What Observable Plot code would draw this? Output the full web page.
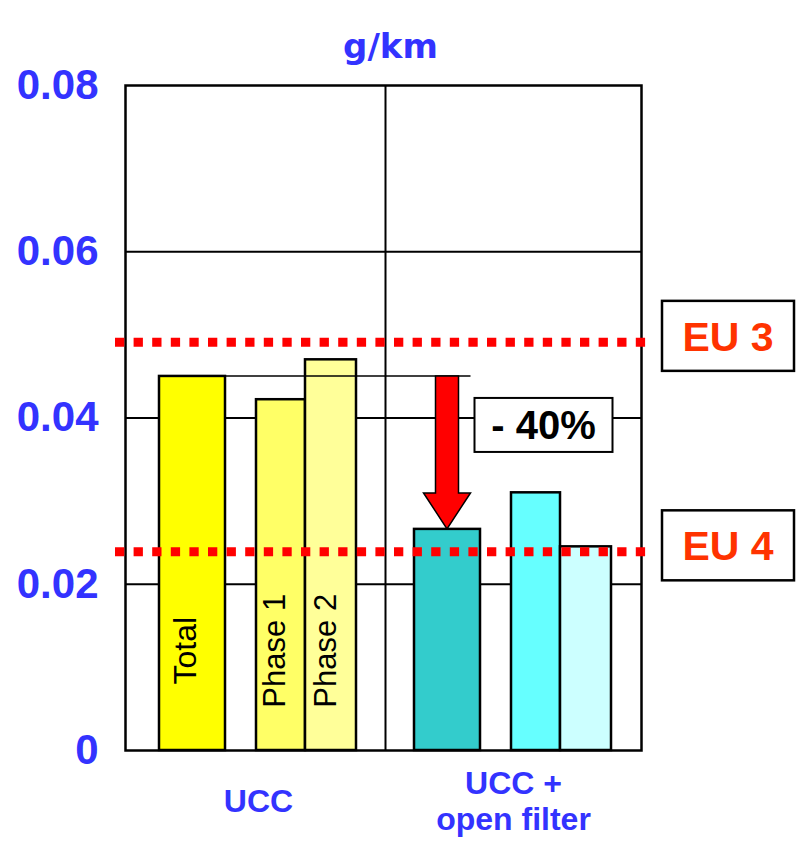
<!DOCTYPE html>
<html><head><meta charset="utf-8">
<script src="https://cdn.jsdelivr.net/npm/d3@7"></script>
<script src="https://cdn.jsdelivr.net/npm/@observablehq/plot@0.6"></script>
<style>body{margin:0;background:#fff}</style>
</head><body><div id="chart"></div>
<script>
// ---- data ----
const groups = ["UCC", "UCC + open filter"];
const groupLabels = ["UCC", "UCC +\nopen filter"];
const series = ["Total", "Phase 1", "Phase 2"];
const uccValues = [0.045, 0.0422, 0.047];
const filterValues = [0.0266, 0.031, 0.0245];
const uccColors = ["#ffff00", "#ffff66", "#ffff99"];
const filterColors = ["#33cccc", "#66ffff", "#ccffff"];
const yTicks = [0, 0.02, 0.04, 0.06, 0.08];
const limitNames = ["EU 3", "EU 4"];
const limitValues = [0.0491, 0.0239];
const reductionLabel = "- 40%";
const unitLabel = "g/km";

// ---- build table ----
const slot = (g, s) => g + "|" + s;
const xDomain = [
  slot(groups[0], "Total"), slot(groups[0], "gap"), slot(groups[0], "Phase 1"), slot(groups[0], "Phase 2"),
  "sep",
  slot(groups[1], "Total"), slot(groups[1], "gap"), slot(groups[1], "Phase 1"), slot(groups[1], "Phase 2")
];
const rows = [];
groups.forEach((g, gi) => series.forEach((s, si) =>
  rows.push({group: g, series: s, key: slot(g, s), value: (gi ? filterValues : uccValues)[si]})));
const colorDomain = rows.map(d => d.key);
const colorRange = [...uccColors, ...filterColors];

const BLUE = "#3333ff";
const SANS = "'Liberation Sans', Arial, sans-serif";
const NARROW = "'Liberation Sans Narrow', 'Arial Narrow', 'Liberation Sans', sans-serif";
const TOTAL_INSET_L = 5, TOTAL_INSET_R = -20;

function overlay(index, scales, values, dims) {
  const {x, y} = scales;
  const bw = x.bandwidth();
  const g = d3.create("svg:g");
  const top = dims.marginTop, bottom = dims.height - dims.marginBottom;
  const right = dims.width - dims.marginRight;
  // divider between the two groups
  const sx = x("sep") + bw / 2 + 2;
  g.append("line").attr("x1", sx).attr("x2", sx).attr("y1", top).attr("y2", bottom)
    .attr("stroke", "#000").attr("stroke-width", 2);
  // reference line at the UCC total level
  const totalU = uccValues[0], totalF = filterValues[0];
  const tl = x(slot(groups[0], "Total")) + TOTAL_INSET_L;
  const fl = x(slot(groups[1], "Total")) + TOTAL_INSET_L;
  const fr = x(slot(groups[1], "Total")) + bw - TOTAL_INSET_R;
  const cx = (fl + fr) / 2;
  const y0 = y(totalU), y1 = y(totalF);
  const headW = 23.5, shaftW = 11.5, headH = 36;
  g.append("line").attr("x1", tl).attr("x2", cx + headW).attr("y1", y0).attr("y2", y0)
    .attr("stroke", "#000").attr("stroke-width", 1.5);
  // block arrow
  const pts = [[cx - shaftW, y0], [cx + shaftW, y0], [cx + shaftW, y1 - headH], [cx + headW, y1 - headH],
               [cx, y1], [cx - headW, y1 - headH], [cx - shaftW, y1 - headH]];
  g.append("path").attr("d", "M" + pts.map(p => p.join(",")).join("L") + "Z")
    .attr("fill", "#ff0000").attr("stroke", "#000").attr("stroke-width", 1.5);
  // reduction label box
  const bx = cx + 27.5, by = y0 + 22;
  g.append("rect").attr("x", bx).attr("y", by).attr("width", 138).attr("height", 54)
    .attr("fill", "#fff").attr("stroke", "#000").attr("stroke-width", 2);
  g.append("text").attr("x", bx + 69).attr("y", by + 27 + 14.5).attr("text-anchor", "middle")
    .attr("font-family", SANS).attr("font-weight", "bold").attr("font-size", 40).attr("fill", "#000")
    .text(reductionLabel);
  // limit boxes
  limitNames.forEach((name, i) => {
    const cy = y(limitValues[i]) - 6;
    g.append("rect").attr("x", right + 21).attr("y", cy - 35).attr("width", 132).attr("height", 70)
      .attr("fill", "#fff").attr("stroke", "#000").attr("stroke-width", 2.5);
    g.append("text").attr("x", right + 21 + 66).attr("y", cy + 15).attr("text-anchor", "middle")
      .attr("font-family", SANS).attr("font-weight", "bold").attr("font-size", 41).attr("fill", "#ff3300")
      .text(name);
  });
  // group labels
  groups.forEach((grp, gi) => {
    const l = x(slot(grp, "Total")) + TOTAL_INSET_L;
    const r = x(slot(grp, "Phase 2")) + bw;
    const c = (l + r) / 2;
    const lines = groupLabels[gi].split("\n");
    const lh = 36;
    const t = g.append("text").attr("text-anchor", "middle").attr("font-family", SANS)
      .attr("font-weight", "bold").attr("font-size", 32).attr("fill", BLUE);
    lines.forEach((ln, li) => {
      t.append("tspan").attr("x", c)
        .attr("y", bottom + 50 + 11.5 + (li - (lines.length - 1) / 2) * lh).text(ln);
    });
  });
  return g.node();
}

const chart = Plot.plot({
  width: 796,
  height: 842,
  marginLeft: 125,
  marginRight: 155,
  marginTop: 85,
  marginBottom: 92,
  style: {fontFamily: SANS, background: "#fff"},
  x: {type: "band", domain: xDomain, paddingInner: 0, paddingOuter: 0.5, axis: null},
  y: {domain: [0, 0.08], axis: null},
  color: {type: "ordinal", domain: colorDomain, range: colorRange},
  marks: [
    Plot.ruleY(yTicks.filter(v => v > 0 && v < 0.08), {stroke: "#000", strokeWidth: 2}),
    Plot.barY(rows.filter(d => d.series === "Total"), {x: "key", y: "value", fill: "key",
      stroke: "#000", strokeWidth: 2.5, insetLeft: TOTAL_INSET_L, insetRight: TOTAL_INSET_R}),
    Plot.barY(rows.filter(d => d.series === "Phase 1"), {x: "key", y: "value", fill: "key",
      stroke: "#000", strokeWidth: 2.5, insetLeft: 0, insetRight: 2}),
    Plot.barY(rows.filter(d => d.series === "Phase 2"), {x: "key", y: "value", fill: "key",
      stroke: "#000", strokeWidth: 2.5, insetLeft: -2, insetRight: 2}),
    Plot.text(rows.filter(d => d.group === groups[0] && d.series === "Total"), {x: "key", y: () => 0.012,
      text: "series", rotate: -90, fontSize: 32, fill: "#000", dx: 6}),
    Plot.text(rows.filter(d => d.group === groups[0] && d.series !== "Total"), {x: "key", y: () => 0.012,
      text: "series", rotate: -90, fontSize: 31, fill: "#000", dx: -7}),
    Plot.frame({stroke: "#000", strokeWidth: 2.5}),
    overlay,
    Plot.ruleY(limitValues, {stroke: "#ff0000", strokeWidth: 9, strokeDasharray: "9.3,9.3",
      insetLeft: -10, insetRight: -7}),
    Plot.axisY(yTicks, {tickSize: 0, tickPadding: 27, label: null,
      tickFormat: d => d === 0 ? "0" : d.toFixed(2),
      fontSize: 42, fontWeight: "bold", fontFamily: NARROW, fill: BLUE}),
    Plot.text([unitLabel], {frameAnchor: "top", dy: -52, dx: 7, fontSize: 34, fontWeight: "bold",
      fontFamily: "'DejaVu Sans', sans-serif", fill: BLUE})
  ]
});
document.getElementById("chart").appendChild(chart);
</script>
</body></html>
